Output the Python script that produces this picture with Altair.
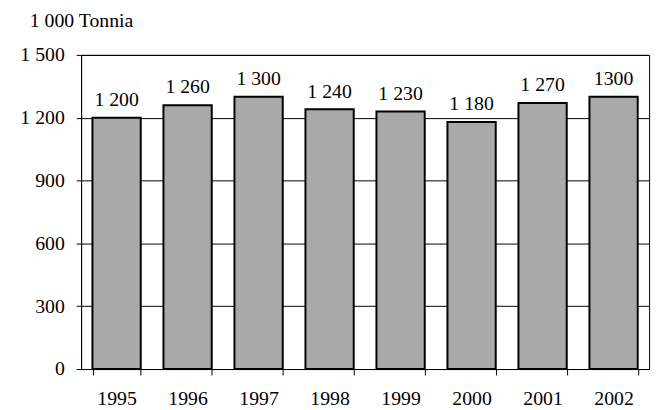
import altair as alt
import pandas as pd

years = ["1995", "1996", "1997", "1998", "1999", "2000", "2001", "2002"]
values = [1200, 1260, 1300, 1240, 1230, 1180, 1270, 1300]
labels = ["1 200", "1 260", "1 300", "1 240", "1 230", "1 180", "1 270", "1300"]
y_ticks = [0, 300, 600, 900, 1200, 1500]

df = pd.DataFrame({"year": years, "value": values, "label": labels})

FONT = "Liberation Serif"
FS = 20

x = alt.X("year:N", sort=years, title=None,
          scale=alt.Scale(paddingInner=0.32, paddingOuter=0.16),
          axis=alt.Axis(labelAngle=0, tickBand="extent", tickSize=6,
                        labelPadding=14, domainColor="black", tickColor="black",
                        labelColor="black", labelFont=FONT, labelFontSize=FS))
y = alt.Y("value:Q", title=None,
          scale=alt.Scale(domain=[0, 1500], nice=False),
          axis=alt.Axis(values=y_ticks, grid=True, gridColor="black", gridWidth=1,
                        gridOpacity=1, tickSize=5, labelPadding=12,
                        domainColor="black", tickColor="black", labelColor="black",
                        labelFont=FONT, labelFontSize=FS,
                        labelExpr="replace(format(datum.value, ','), ',', ' ')"))

base = alt.Chart(df)
bars = base.mark_bar(fill="#a9a9a9", stroke="black", strokeWidth=2).encode(x=x, y=y)
text = base.mark_text(baseline="alphabetic", dy=-12, font=FONT, fontSize=FS,
                      color="black").encode(x=x, y=y, text="label:N")

chart = (bars + text).properties(
    width=575, height=318,
    padding={"left": 74, "top": 45, "right": 7, "bottom": 40},
    autosize=alt.AutoSizeParams(type="none"),
    title=alt.TitleParams("1 000 Tonnia", anchor="start", frame="group", dx=-52,
                          offset=14, font=FONT, fontSize=FS, fontWeight="normal",
                          color="black"),
).configure_view(stroke="black", strokeWidth=1)

chart.save("out.html", embed_options={"renderer": "svg", "actions": False})
